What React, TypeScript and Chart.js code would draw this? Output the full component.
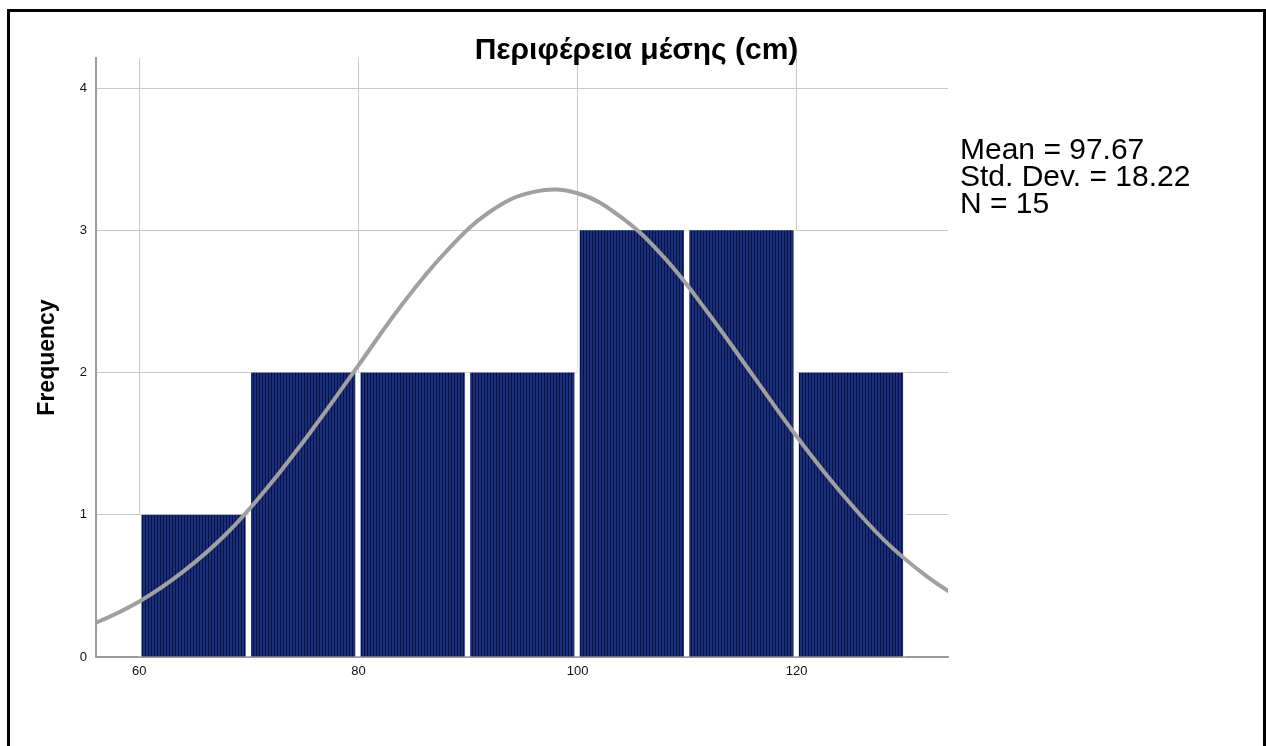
import React, { useEffect, useRef } from 'react';
import { Chart, registerables } from 'chart.js';

Chart.register(...registerables);

const chartTitle = 'Περιφέρεια μέσης (cm)';
const yAxisTitle = 'Frequency';
const binCenters = [65, 75, 85, 95, 105, 115, 125];
const frequencies = [1, 2, 2, 2, 3, 3, 2];
const curveX = [52, 56, 60, 64, 68, 72, 76, 80, 84, 88, 92, 96, 100, 104, 108, 112, 116, 120, 124, 128, 132, 136];
const curveY = [0.14, 0.24, 0.39, 0.6, 0.87, 1.22, 1.62, 2.05, 2.48, 2.85, 3.13, 3.27, 3.26, 3.09, 2.8, 2.41, 1.98, 1.55, 1.16, 0.82, 0.56, 0.36];
const xTickValues = [60, 80, 100, 120];
const yTickValues = [0, 1, 2, 3, 4];
const statsLines = ['Mean = 97.67', 'Std. Dev. = 18.22', 'N = 15'];
const xMin = 56.05;
const xMax = 133.81;
const yMin = 0;
const yMax = 4.211;

const FONT = '"Liberation Sans", Arial, Helvetica, sans-serif';

const statsPlugin = {
  id: 'statsText',
  afterDraw(chart: any) {
    const ctx = chart.ctx as CanvasRenderingContext2D;
    ctx.save();
    ctx.font = `30px ${FONT}`;
    ctx.fillStyle = '#000';
    ctx.textAlign = 'left';
    ctx.textBaseline = 'alphabetic';
    statsLines.forEach((t, i) => ctx.fillText(t, 950, 147 + i * 27));
    ctx.restore();
  },
};

export default function App() {
  const canvasRef = useRef<HTMLCanvasElement | null>(null);

  useEffect(() => {
    const canvas = canvasRef.current;
    if (!canvas) return;
    const ctx = canvas.getContext('2d')!;
    Chart.defaults.font.family = FONT;

    const pc = document.createElement('canvas');
    pc.width = 3;
    pc.height = 1;
    const pctx = pc.getContext('2d')!;
    pctx.fillStyle = '#192e7e';
    pctx.fillRect(0, 0, 3, 1);
    pctx.fillStyle = '#09123a';
    pctx.fillRect(0, 0, 1, 1);
    const pattern = ctx.createPattern(pc, 'repeat');

    const chart = new Chart(ctx, {
      type: 'bar',
      data: {
        datasets: [
          {
            type: 'line',
            data: curveX.map((x, i) => ({ x, y: curveY[i] })),
            borderColor: '#a0a0a0',
            borderWidth: 4,
            pointRadius: 0,
            tension: 0.4,
            fill: false,
            order: 0,
            clip: 0,
          } as any,
          {
            type: 'bar',
            data: binCenters.map((x, i) => ({ x, y: frequencies[i] })),
            backgroundColor: pattern as any,
            borderColor: '#ffffff',
            borderWidth: { left: 2.5, right: 3.5, top: 0, bottom: 0 },
            borderSkipped: false,
            barPercentage: 1,
            categoryPercentage: 1,
            order: 1,
          } as any,
        ],
      },
      options: {
        animation: false,
        responsive: false,
        maintainAspectRatio: false,
        devicePixelRatio: 1,
        layout: { padding: 0 },
        plugins: {
          legend: { display: false },
          tooltip: { enabled: false },
          title: {
            display: true,
            text: chartTitle,
            color: '#000',
            font: { size: 30, weight: 'bold' },
            padding: { top: 21, bottom: -11 },
          },
        },
        scales: {
          x: {
            type: 'linear',
            min: xMin,
            max: xMax,
            offset: false,
            grid: { offset: false, color: '#c8c8c8', lineWidth: 1, drawTicks: false },
            border: { display: true, color: '#9b9b9b', width: 2 },
            ticks: { color: '#111', font: { size: 13 }, padding: 7, autoSkip: false, maxRotation: 0 },
            afterBuildTicks: (s: any) => {
              s.ticks = xTickValues.map((v) => ({ value: v }));
            },
            afterFit: (s: any) => {
              s.height = 89;
            },
          },
          y: {
            type: 'linear',
            min: yMin,
            max: yMax,
            grid: { color: '#c8c8c8', lineWidth: 1, drawTicks: false },
            border: { display: true, color: '#9b9b9b', width: 2 },
            ticks: { color: '#111', font: { size: 13 }, padding: 9 },
            title: {
              display: true,
              text: yAxisTitle,
              color: '#000',
              font: { size: 23, weight: 'bold' },
              padding: { top: 24, bottom: 0 },
            },
            afterBuildTicks: (s: any) => {
              s.ticks = yTickValues.map((v) => ({ value: v }));
            },
            afterFit: (s: any) => {
              s.width = 86;
            },
          },
          yRight: {
            type: 'linear',
            position: 'right',
            display: true,
            min: yMin,
            max: yMax,
            grid: { display: false, drawTicks: false },
            border: { display: false },
            ticks: { display: false },
            afterFit: (s: any) => {
              s.width = 315;
            },
          },
        },
      } as any,
      plugins: [statsPlugin],
    });

    return () => {
      chart.destroy();
    };
  }, []);

  return (
    <div
      style={{
        position: 'fixed',
        left: 7,
        top: 9,
        width: 1253,
        height: 760,
        border: '3px solid #000',
        background: '#fff',
        overflow: 'hidden',
      }}
    >
      <canvas
        ref={canvasRef}
        width={1253}
        height={734}
        style={{ position: 'absolute', left: 0, top: 0, width: 1253, height: 734, display: 'block' }}
      />
    </div>
  );
}
